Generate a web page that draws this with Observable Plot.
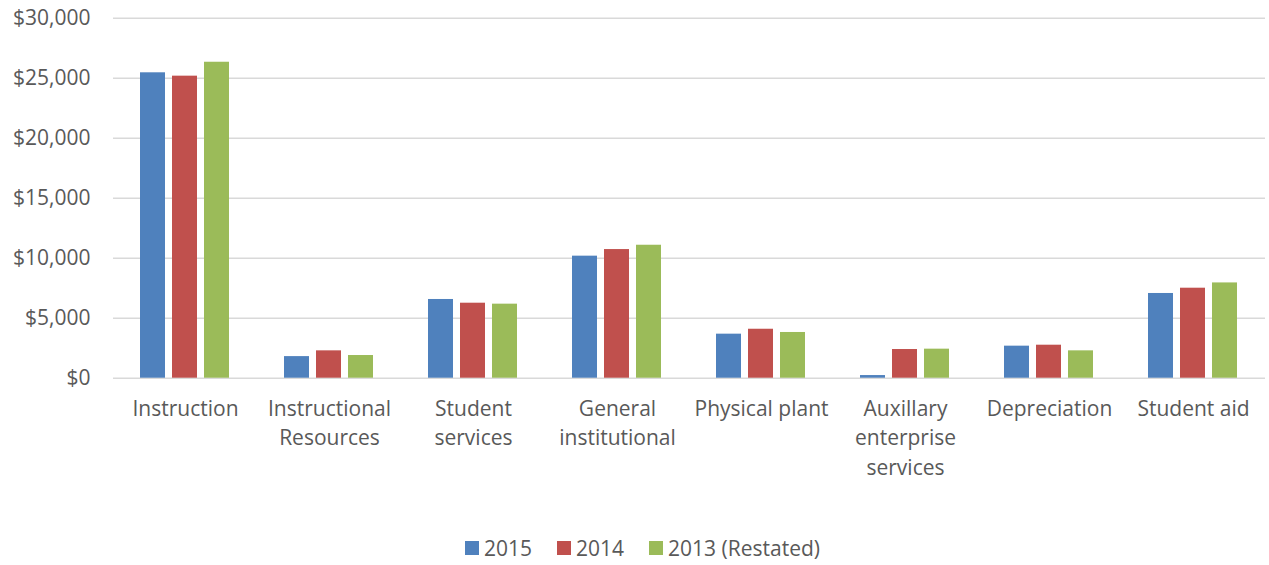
<!DOCTYPE html>
<html>
<head>
<meta charset="utf-8">
<script src="https://cdn.jsdelivr.net/npm/d3@7"></script>
<script src="https://cdn.jsdelivr.net/npm/@observablehq/plot@0.6"></script>
<style>
  html, body { margin: 0; padding: 0; background: #fff; }
  #wrap { position: relative; width: 1269px; height: 565px; font-family: "Open Sans", sans-serif; color: #595959; }
  #legend { position: absolute; left: 465px; top: 534px; display: flex; align-items: center; font-size: 21px; color: #595959; }
  #legend .item { display: flex; align-items: center; margin-right: 25px; }
  #legend .sw { width: 14px; height: 14px; margin-right: 5px; }
</style>
</head>
<body>
<div id="wrap"><div id="chart"></div><div id="legend"></div></div>
<script>
const categories = ["Instruction", "Instructional Resources", "Student services", "General institutional", "Physical plant", "Auxillary enterprise services", "Depreciation", "Student aid"];
const tickLabels = ["Instruction", "Instructional\nResources", "Student\nservices", "General\ninstitutional", "Physical plant", "Auxillary\nenterprise\nservices", "Depreciation", "Student aid"];
const seriesNames = ["2015", "2014", "2013 (Restated)"];
const seriesColors = ["#4F81BD", "#C0504D", "#9BBB59"];
const values2015 = [25450, 1800, 6560, 10170, 3670, 220, 2670, 7060];
const values2014 = [25170, 2280, 6250, 10720, 4080, 2390, 2750, 7500];
const values2013 = [26330, 1890, 6170, 11080, 3810, 2420, 2280, 7940];
const yTicks = [0, 5000, 10000, 15000, 20000, 25000, 30000];

const allValues = [values2015, values2014, values2013];
const data = [];
categories.forEach((c, i) => {
  seriesNames.forEach((s, j) => data.push({category: c, series: s, value: allValues[j][i]}));
});

const fmt = d3.format(",");
const chart = Plot.plot({
  width: 1269,
  height: 528,
  marginTop: 17.7,
  marginBottom: 150.3,
  marginLeft: 112,
  marginRight: 4,
  style: {fontFamily: "'Open Sans', sans-serif", color: "#595959", background: "#fff"},
  fx: {domain: categories, padding: 0},
  x: {domain: seriesNames, paddingInner: 0.206, paddingOuter: 0.853, axis: null},
  y: {domain: [0, 30000]},
  color: {domain: seriesNames, range: seriesColors},
  marks: [
    Plot.ruleY(yTicks, {stroke: "#d9d9d9", strokeWidth: 1.6}),
    Plot.barY(data, {fx: "category", x: "series", y: "value", fill: "series"}),
    Plot.axisY(yTicks, {tickSize: 0, tickPadding: 23, fontSize: 21, tickFormat: d => "$" + fmt(d), fill: "#595959", label: null}),
    Plot.axisFx({anchor: "bottom", tickSize: 0, tickPadding: 17, fontSize: 21, lineHeight: 1.4, fill: "#595959",
      tickFormat: d => tickLabels[categories.indexOf(d)], label: null})
  ]
});
document.getElementById("chart").appendChild(chart);

const legend = document.getElementById("legend");
seriesNames.forEach((s, i) => {
  const item = document.createElement("div");
  item.className = "item";
  const sw = document.createElement("div");
  sw.className = "sw";
  sw.style.background = seriesColors[i];
  const t = document.createElement("span");
  t.textContent = s;
  item.appendChild(sw);
  item.appendChild(t);
  legend.appendChild(item);
});
</script>
</body>
</html>
